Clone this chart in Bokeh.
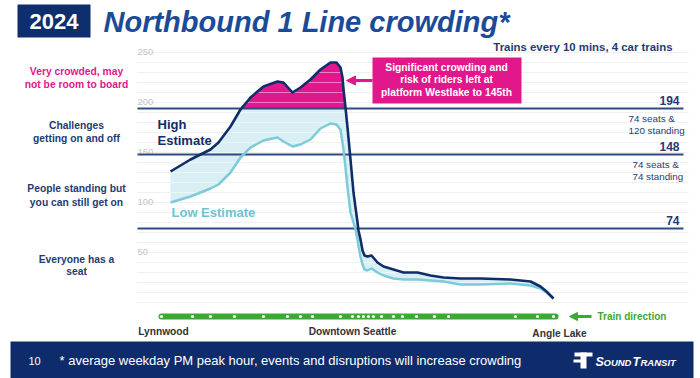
import numpy as np
from bokeh.plotting import figure
from bokeh.models import Range1d, Arrow, NormalHead
from bokeh.core.properties import value
from bokeh.embed import file_html
from bokeh.resources import INLINE

# ---------------- data ----------------
stations = ["Lynnwood City Center", "Mountlake Terrace", "Shoreline North/185th",
            "Shoreline South/148th", "Northgate", "Roosevelt", "U District",
            "University of Washington", "Capitol Hill", "Westlake", "Symphony",
            "Pioneer Square", "Int'l Dist/Chinatown", "Stadium", "SODO", "Beacon Hill",
            "Mount Baker", "Columbia City", "Othello", "Rainier Beach",
            "Tukwila Int'l Blvd", "SeaTac/Airport", "Angle Lake"]
station_pos = [0.0, 3.1, 4.9, 7.3, 10.2, 12.6, 13.9, 15.1, 17.9, 19.1, 19.7, 20.2,
               20.7, 21.2, 22.0, 23.2, 24.1, 25.5, 27.3, 28.7, 35.4, 37.6, 39.2]
label_stations = ["Lynnwood", "Downtown Seattle", "Angle Lake"]
label_station_pos = [0.2, 19.1, 39.8]

curve_pos = [0.9, 2.9, 4.9, 5.7, 6.9, 7.9, 8.9, 10.2, 11.6, 12.2, 13.1, 13.9, 14.9,
             15.9, 16.9, 17.5, 17.9, 18.1, 18.2, 18.4, 18.6, 18.9, 19.2, 19.4, 19.6,
             19.7, 19.9, 20.1, 20.3, 20.6, 21.0, 21.6, 22.2, 23.2, 24.2, 25.6, 26.9,
             28.2, 29.9, 31.9, 34.9, 36.9, 37.9, 38.5, 39.2]
high_est = [131, 143, 153, 160, 176, 193, 205, 216, 221, 220, 210, 215, 223,
            233, 240, 240, 235, 225, 213, 195, 175, 143, 110, 95, 80,
            72, 63, 52, 47, 46, 47, 40, 36, 33, 30, 30, 27,
            25, 24, 24, 23, 21, 16, 11, 4]
low_est = [100, 106, 114, 118, 130, 145, 155, 162, 165, 161, 156, 158, 163,
           174, 179, 178, 173, 160, 153, 135, 115, 90, 80, 73, 63,
           56, 46, 38, 33, 32, 34, 30, 27, 24, 23, 23, 22,
           21, 18, 18, 19, 17, 14, 10, 4]

capacity_levels = [194, 148, 74]
capacity_notes = [["74 seats &", "120 standing"], ["74 seats &", "74 standing"], []]
y_tick_values = [50, 100, 150, 200, 250]
grid_values = [0, 10, 20, 30, 40, 50, 60, 70, 80, 90, 100, 110, 120, 130, 140, 150,
               160, 170, 180, 190, 200, 210, 220, 230, 240, 250]
zone_labels = [["Very crowded, may", "not be room to board"],
               ["Challenges", "getting on and off"],
               ["People standing but", "you can still get on"],
               ["Everyone has a", "seat"]]

# ---------------- layout helpers (screen px -> data) ----------------
W, H = 700, 378
def X(px):
    return (px - 161) / 10.0
def Y(py):
    return 302 - py

FONT = value("Liberation Sans")
NAVY = "#0f2d69"
LINE_NAVY = "#2e4b86"
TEAL = "#7ccbd8"
BAND = "#d9eff3"
MAGENTA = "#e2178b"
GREEN = "#3aaa35"
TEXT_NAVY = "#1f3b73"

p = figure(width=W, height=H, x_range=Range1d(X(0), X(W)), y_range=Range1d(Y(H), Y(0)),
           output_backend="svg", toolbar_location=None, min_border=0,
           x_axis_location=None, y_axis_location=None)
p.outline_line_color = None
p.xgrid.visible = False
p.ygrid.visible = False
p.background_fill_color = "white"
p.border_fill_color = "white"

def txt(x, y, s, size="10px", color=TEXT_NAVY, style="bold", align="center", baseline="middle"):
    p.text(x=[x], y=[y], text=[s], text_font=FONT, text_font_size=size,
           text_font_style=style, text_color=color, text_align=align, text_baseline=baseline)

# grid lines
gx0, gx1 = X(137), X(688)
p.segment(x0=[gx0] * len(grid_values), x1=[gx1] * len(grid_values),
          y0=grid_values, y1=grid_values, line_color="#e3e3e3", line_width=1)

# fills
high = np.array(high_est, dtype=float)
low = np.array(low_est, dtype=float)
p.varea(x=curve_pos, y1=low, y2=high, fill_color=BAND)
p.varea(x=curve_pos, y1=[capacity_levels[0]] * len(curve_pos),
        y2=np.maximum(high, capacity_levels[0]), fill_color=MAGENTA)

# light overlay grid lines on the fills
p.segment(x0=[gx0] * len(grid_values), x1=[gx1] * len(grid_values),
          y0=grid_values, y1=grid_values, line_color="white", line_alpha=0.45, line_width=1)

# y tick labels
p.text(x=[X(137)] * len(y_tick_values), y=[v + 1 for v in y_tick_values],
       text=[str(v) for v in y_tick_values], text_font=FONT, text_font_size="9.5px",
       text_color="#c4c4c4", text_align="left", text_baseline="middle")

# capacity lines
p.segment(x0=[gx0] * 3, x1=[X(683)] * 3, y0=capacity_levels, y1=capacity_levels,
          line_color=LINE_NAVY, line_width=2)
p.text(x=[X(679)] * 3, y=[v + 8 for v in capacity_levels], text=[str(v) for v in capacity_levels],
       text_font=FONT, text_font_size="12px", text_font_style="bold", text_color=TEXT_NAVY,
       text_align="right", text_baseline="middle")
for lvl, notes, nx in zip(capacity_levels, capacity_notes, [628, 632, 632]):
    for i, n in enumerate(notes):
        txt(X(nx), lvl - 10 - 11.5 * i, n, size="9.8px", style="normal", align="left")

# curves
p.line(curve_pos, low, line_color=TEAL, line_width=2.5, line_join="round")
p.line(curve_pos, high, line_color=NAVY, line_width=2.6, line_join="round")

# curve labels
txt(X(157), Y(124), "High", size="13px", color=NAVY, align="left")
txt(X(157), Y(140), "Estimate", size="13px", color=NAVY, align="left")
txt(X(171), Y(212), "Low Estimate", size="13px", color="#6cc5d4", align="left")

# zone labels
zone_y = [(71, 84), (125, 138), (188, 202), (259, 271)]
for lines, ys, c in zip(zone_labels, zone_y, [MAGENTA, TEXT_NAVY, TEXT_NAVY, TEXT_NAVY]):
    for s, yy in zip(lines, ys):
        txt(X(76), Y(yy), s, size="10.3px", color=c)

# annotation box
p.quad(left=[X(372)], right=[X(521)], top=[Y(57)], bottom=[Y(103)],
       fill_color=MAGENTA, line_color=None)
for s, yy in zip(["Significant crowding and", "risk of riders left at",
                  "platform Westlake to 145th"], [67, 79, 92]):
    txt(X(446), Y(yy), s, size="10.3px", color="white")
p.add_layout(Arrow(end=NormalHead(size=9, fill_color=MAGENTA, line_color=MAGENTA),
                   x_start=X(372), y_start=Y(80), x_end=X(346), y_end=Y(80),
                   line_color=MAGENTA, line_width=3))

txt(X(672), Y(46), "Trains every 10 mins, 4 car trains", size="11.4px", align="right")

# track
ty = Y(316)
p.line([station_pos[0], station_pos[-1] + 0.2], [ty, ty], line_color=GREEN, line_width=6,
       line_cap="round")
p.scatter(station_pos, [ty] * len(station_pos), size=3.2, fill_color="white", line_color=None)
p.add_layout(Arrow(end=NormalHead(size=8, fill_color=GREEN, line_color=GREEN),
                   x_start=X(591), y_start=ty, x_end=X(569), y_end=ty,
                   line_color=GREEN, line_width=3))
txt(X(597), ty, "Train direction", size="10px", color=GREEN, align="left")
for s, xx, yy in zip(label_stations, label_station_pos, [331, 331, 333]):
    txt(xx, Y(yy), s, size="10.2px", color="#333333")

# header
p.quad(left=[X(17)], right=[X(90)], top=[Y(4)], bottom=[Y(37)], fill_color="#0f2e6e", line_color=None)
txt(X(53.5), Y(21), "2024", size="22px", color="white")
txt(X(103), Y(21), "Northbound 1 Line crowding*", size="29px", color="#1b4b98",
    style="bold italic", align="left")

# footer
p.quad(left=[X(10)], right=[X(693)], top=[Y(341)], bottom=[Y(380)], fill_color="#0e2c6b",
       line_color=None)
txt(X(28), Y(360), "10", size="11px", color="white", style="normal", align="left")
txt(X(59), Y(360), "* average weekday PM peak hour, events and disruptions will increase crowding",
    size="13px", color="white", style="normal", align="left")
# logo
p.quad(left=[X(574), X(580)], right=[X(592), X(586)], top=[Y(352), Y(352)],
       bottom=[Y(356), Y(368)], fill_color="white", line_color=None)
p.quad(left=[X(573)], right=[X(584)], top=[Y(359)], bottom=[Y(362)], fill_color="white", line_color=None)
txt(X(595), Y(361), "S", size="12.5px", color="white", style="bold italic", align="left")
txt(X(603), Y(361.5), "OUND", size="9.5px", color="white", style="bold italic", align="left")
txt(X(632), Y(361), "T", size="12.5px", color="white", style="bold italic", align="left")
txt(X(640), Y(361.5), "RANSIT", size="9.5px", color="white", style="bold italic", align="left")

open("out.html", "w").write(file_html(p, INLINE))
